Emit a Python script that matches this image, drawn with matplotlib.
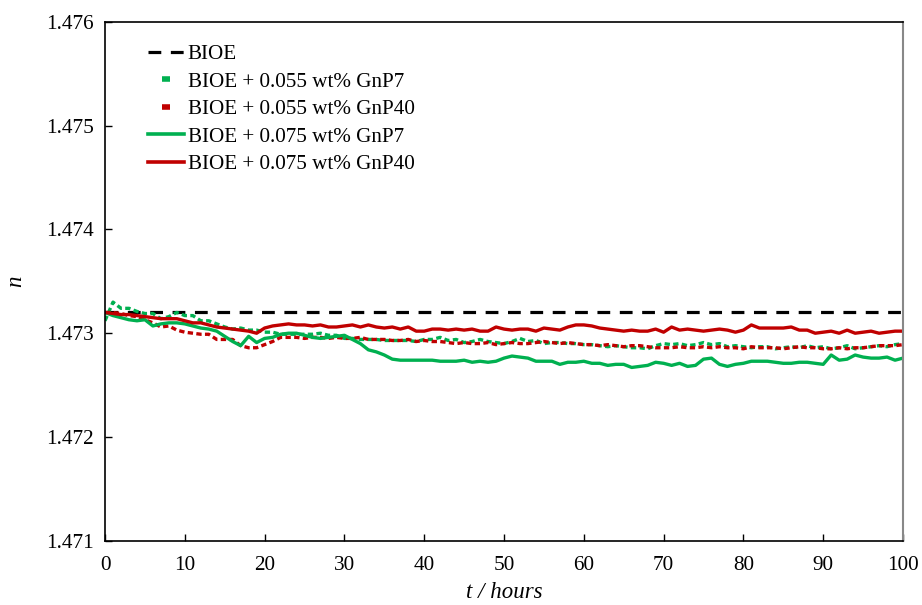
import matplotlib
matplotlib.use("Agg")
import matplotlib.pyplot as plt
from matplotlib.lines import Line2D
import numpy as np

plt.rcParams['font.family'] = ['Liberation Serif', 'DejaVu Serif']

# time in hours, one reading every hour
hours = np.arange(0, 101)

# refractive index, plain base oil
bioe = [1.47320] * 101

# BIOE + 0.055 wt% GnP7 (dotted green)
gnp7_055 = [
    1.47312, 1.47330, 1.47324, 1.47324, 1.47321, 1.47319, 1.47319, 1.47314, 1.47316, 1.47320,
    1.47317, 1.47317, 1.47312, 1.47312, 1.47309, 1.47306, 1.47304, 1.47305, 1.47303, 1.47303,
    1.47301, 1.47301, 1.47299, 1.47299, 1.47299, 1.47299, 1.47299, 1.47300, 1.47298, 1.47298,
    1.47295, 1.47295, 1.47294, 1.47294, 1.47294, 1.47293, 1.47293, 1.47293, 1.47293, 1.47292,
    1.47294, 1.47294, 1.47296, 1.47293, 1.47294, 1.47291, 1.47292, 1.47294, 1.47292, 1.47291,
    1.47290, 1.47292, 1.47295, 1.47292, 1.47293, 1.47290, 1.47291, 1.47291, 1.47290, 1.47290,
    1.47289, 1.47289, 1.47288, 1.47287, 1.47288, 1.47287, 1.47286, 1.47286, 1.47285, 1.47288,
    1.47290, 1.47289, 1.47290, 1.47288, 1.47289, 1.47291, 1.47289, 1.47290, 1.47287, 1.47288,
    1.47287, 1.47286, 1.47287, 1.47287, 1.47285, 1.47286, 1.47287, 1.47286, 1.47288, 1.47286,
    1.47287, 1.47285, 1.47286, 1.47288, 1.47285, 1.47286, 1.47287, 1.47288, 1.47287, 1.47289,
    1.47290,
]

# BIOE + 0.055 wt% GnP40 (dotted red)
gnp40_055 = [
    1.47320, 1.47320, 1.47319, 1.47317, 1.47316, 1.47313, 1.47310, 1.47306, 1.47307, 1.47303,
    1.47301, 1.47300, 1.47299, 1.47299, 1.47294, 1.47294, 1.47294, 1.47288, 1.47286, 1.47286,
    1.47289, 1.47292, 1.47296, 1.47296, 1.47296, 1.47295, 1.47296, 1.47296, 1.47295, 1.47296,
    1.47295, 1.47295, 1.47296, 1.47294, 1.47294, 1.47294, 1.47293, 1.47293, 1.47294, 1.47292,
    1.47293, 1.47292, 1.47292, 1.47291, 1.47290, 1.47291, 1.47290, 1.47290, 1.47291, 1.47289,
    1.47290, 1.47291, 1.47290, 1.47290, 1.47291, 1.47292, 1.47291, 1.47290, 1.47291, 1.47290,
    1.47289, 1.47289, 1.47288, 1.47289, 1.47288, 1.47287, 1.47288, 1.47288, 1.47287, 1.47286,
    1.47286, 1.47286, 1.47287, 1.47286, 1.47286, 1.47287, 1.47286, 1.47287, 1.47286, 1.47286,
    1.47285, 1.47287, 1.47286, 1.47286, 1.47286, 1.47285, 1.47286, 1.47287, 1.47286, 1.47286,
    1.47285, 1.47285, 1.47286, 1.47285, 1.47286, 1.47286, 1.47287, 1.47288, 1.47288, 1.47288,
    1.47289,
]

# BIOE + 0.075 wt% GnP7 (solid green)
gnp7_075 = [
    1.47320, 1.47317, 1.47315, 1.47313, 1.47312, 1.47313, 1.47307, 1.47309, 1.47310, 1.47310,
    1.47309, 1.47307, 1.47305, 1.47304, 1.47302, 1.47297, 1.47292, 1.47288, 1.47297, 1.47291,
    1.47295, 1.47296, 1.47299, 1.47300, 1.47300, 1.47298, 1.47296, 1.47295, 1.47296, 1.47297,
    1.47298, 1.47294, 1.47290, 1.47284, 1.47282, 1.47279, 1.47275, 1.47274, 1.47274, 1.47274,
    1.47274, 1.47274, 1.47273, 1.47273, 1.47273, 1.47274, 1.47272, 1.47273, 1.47272, 1.47273,
    1.47276, 1.47278, 1.47277, 1.47276, 1.47273, 1.47273, 1.47273, 1.47270, 1.47272, 1.47272,
    1.47273, 1.47271, 1.47271, 1.47269, 1.47270, 1.47270, 1.47267, 1.47268, 1.47269, 1.47272,
    1.47271, 1.47269, 1.47271, 1.47268, 1.47269, 1.47275, 1.47276, 1.47270, 1.47268, 1.47270,
    1.47271, 1.47273, 1.47273, 1.47273, 1.47272, 1.47271, 1.47271, 1.47272, 1.47272, 1.47271,
    1.47270, 1.47279, 1.47274, 1.47275, 1.47279, 1.47277, 1.47276, 1.47276, 1.47277, 1.47274,
    1.47276,
]

# BIOE + 0.075 wt% GnP40 (solid red)
gnp40_075 = [
    1.47320, 1.47319, 1.47318, 1.47318, 1.47317, 1.47316, 1.47315, 1.47314, 1.47314, 1.47314,
    1.47312, 1.47310, 1.47310, 1.47308, 1.47306, 1.47305, 1.47304, 1.47303, 1.47302, 1.47300,
    1.47305, 1.47307, 1.47308, 1.47309, 1.47308, 1.47308, 1.47307, 1.47308, 1.47306, 1.47306,
    1.47307, 1.47308, 1.47306, 1.47308, 1.47306, 1.47305, 1.47306, 1.47304, 1.47306, 1.47302,
    1.47302, 1.47304, 1.47304, 1.47303, 1.47304, 1.47303, 1.47304, 1.47302, 1.47302, 1.47306,
    1.47304, 1.47303, 1.47304, 1.47304, 1.47302, 1.47305, 1.47304, 1.47303, 1.47306, 1.47308,
    1.47308, 1.47307, 1.47305, 1.47304, 1.47303, 1.47302, 1.47303, 1.47302, 1.47302, 1.47304,
    1.47301, 1.47306, 1.47303, 1.47304, 1.47303, 1.47302, 1.47303, 1.47304, 1.47303, 1.47301,
    1.47303, 1.47308, 1.47305, 1.47305, 1.47305, 1.47305, 1.47306, 1.47303, 1.47303, 1.47300,
    1.47301, 1.47302, 1.47300, 1.47303, 1.47300, 1.47301, 1.47302, 1.47300, 1.47301, 1.47302,
    1.47302,
]

labels = ['BIOE', 'BIOE + 0.055 wt% GnP7', 'BIOE + 0.055 wt% GnP40',
          'BIOE + 0.075 wt% GnP7', 'BIOE + 0.075 wt% GnP40']

green = '#00b050'
red = '#c00000'

fig = plt.figure(figsize=(9.22, 6.05), dpi=100)
ax = fig.add_axes([0.1139, 0.1063, 0.8655, 0.8573])

ax.plot(hours, bioe, color='black', lw=2.3, dashes=(4, 3))
ax.plot(hours, gnp7_055, color=green, lw=2.4, dashes=(1.6, 1.0))
ax.plot(hours, gnp40_055, color=red, lw=2.4, dashes=(1.6, 1.0))
ax.plot(hours, gnp7_075, color=green, lw=2.4)
ax.plot(hours, gnp40_075, color=red, lw=2.4)

ax.set_xlim(0, 100)
ax.set_ylim(1.471, 1.476)
ax.set_xticks(np.arange(0, 101, 10))
ax.set_yticks(np.arange(1.471, 1.4765, 0.001))
ax.set_yticklabels(['1.471', '1.472', '1.473', '1.474', '1.475', '1.476'])
ax.tick_params(direction='in', length=5, width=1, labelsize=15.3, pad=8)
ax.tick_params(axis='x', pad=11)
for s in ['left', 'bottom', 'top']:
    ax.spines[s].set_linewidth(1.2)
ax.spines['right'].set_color('#888888')
ax.spines['right'].set_linewidth(1.5)

ax.set_xlabel('t / hours', fontsize=16.5, style='italic', labelpad=5)
ax.set_ylabel('n', fontsize=16.5, style='italic', labelpad=14)

# legend proxies: dotted series show a single short dash, like the original
handles = [
    Line2D([], [], color='black', lw=2.3, dashes=(4, 3)),
    Line2D([], [], color=green, ls='none', marker='_', ms=6, mew=4),
    Line2D([], [], color=red, ls='none', marker='_', ms=6, mew=4),
    Line2D([], [], color=green, lw=2.6),
    Line2D([], [], color=red, lw=2.6),
]
ax.legend(handles, labels, loc='upper left', bbox_to_anchor=(0.054, 0.957),
          frameon=False, fontsize=15.2, handlelength=1.68, handletextpad=0.2,
          labelspacing=0.37, borderpad=0, borderaxespad=0, numpoints=1)

fig.savefig('out.png', dpi=100)
